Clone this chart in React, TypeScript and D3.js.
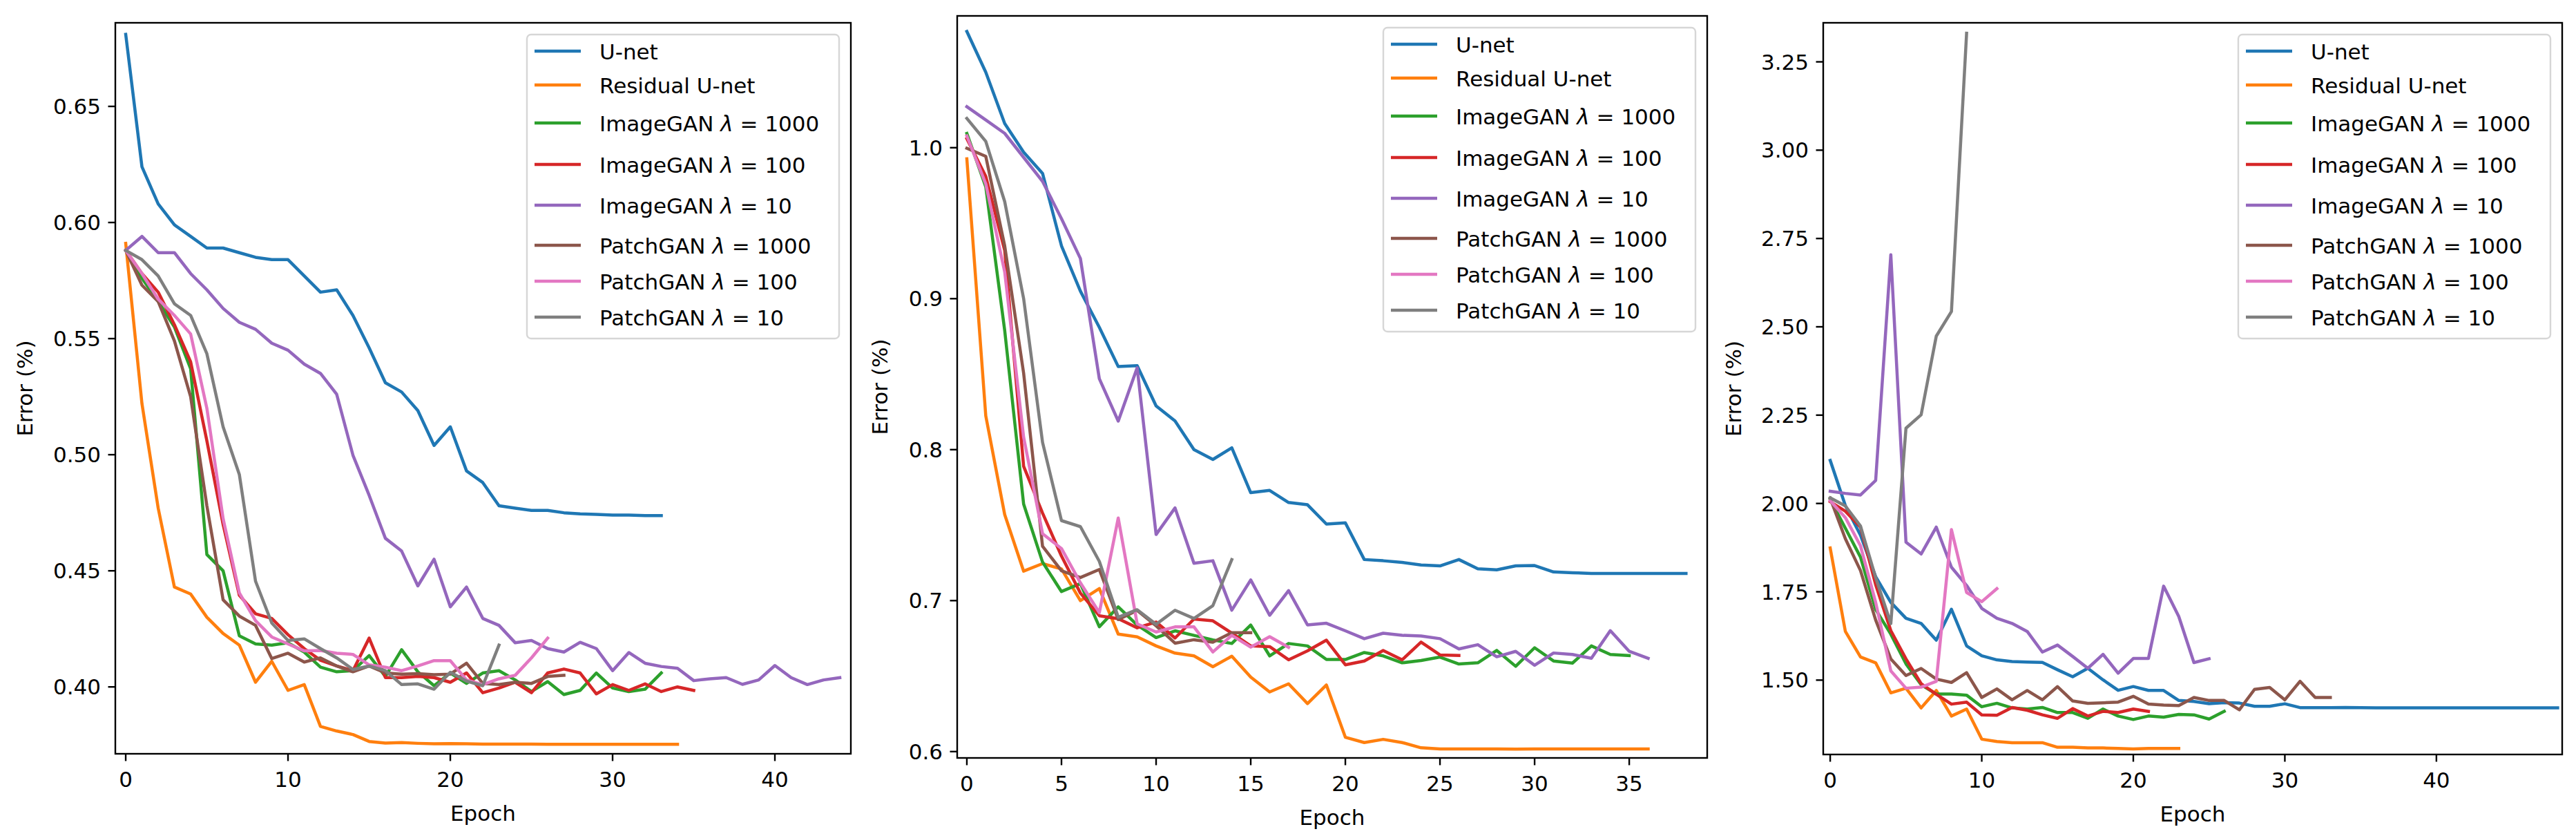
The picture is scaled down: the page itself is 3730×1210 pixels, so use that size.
import React from 'react';
import * as d3 from 'd3';

// legend labels, in plotting order (matplotlib tab10 colours)
const seriesNames = [
  'U-net',
  'Residual U-net',
  'ImageGAN λ = 1000',
  'ImageGAN λ = 100',
  'ImageGAN λ = 10',
  'PatchGAN λ = 1000',
  'PatchGAN λ = 100',
  'PatchGAN λ = 10',
];
const colors = d3.schemeCategory10.slice(0, 8);

// ---- panel 1 (error per epoch) ----
const p1UNet = [0.681, 0.624, 0.608, 0.599, 0.594, 0.589, 0.589, 0.587, 0.585, 0.584, 0.584, 0.577, 0.570, 0.571, 0.560, 0.546, 0.531, 0.527, 0.519, 0.504, 0.512, 0.493, 0.488, 0.478, 0.477, 0.476, 0.476, 0.475, 0.4745, 0.4743, 0.474, 0.474, 0.4738, 0.4738];
const p1ResUNet = [0.591, 0.522, 0.477, 0.443, 0.440, 0.430, 0.423, 0.418, 0.402, 0.411, 0.3985, 0.401, 0.383, 0.381, 0.3795, 0.3765, 0.3758, 0.376, 0.3757, 0.3755, 0.3756, 0.3755, 0.3754, 0.3754, 0.3754, 0.3754, 0.3753, 0.3753, 0.3753, 0.3753, 0.3753, 0.3753, 0.3753, 0.3753, 0.3753];
const p1Img1000 = [0.588, 0.576, 0.566, 0.555, 0.537, 0.457, 0.450, 0.422, 0.4185, 0.418, 0.419, 0.415, 0.4085, 0.4065, 0.407, 0.4135, 0.4045, 0.416, 0.4065, 0.4005, 0.406, 0.4015, 0.406, 0.407, 0.403, 0.398, 0.4023, 0.3967, 0.3985, 0.406, 0.3995, 0.398, 0.399, 0.406];
const p1Img100 = [0.588, 0.578, 0.570, 0.556, 0.540, 0.506, 0.470, 0.4395, 0.4315, 0.4295, 0.4225, 0.4165, 0.4115, 0.409, 0.407, 0.421, 0.404, 0.404, 0.4045, 0.404, 0.402, 0.406, 0.3975, 0.3995, 0.402, 0.3975, 0.406, 0.4077, 0.406, 0.397, 0.401, 0.3985, 0.4013, 0.398, 0.400, 0.3985];
const p1Img10 = [0.588, 0.594, 0.587, 0.587, 0.578, 0.571, 0.563, 0.557, 0.554, 0.548, 0.545, 0.539, 0.535, 0.526, 0.4998, 0.4825, 0.464, 0.4585, 0.4435, 0.455, 0.4345, 0.443, 0.4295, 0.4265, 0.419, 0.420, 0.4165, 0.415, 0.4192, 0.4165, 0.407, 0.4148, 0.4102, 0.4088, 0.408, 0.4027, 0.4035, 0.404, 0.4011, 0.403, 0.4092, 0.404, 0.401, 0.403, 0.404];
const p1Patch1000 = [0.588, 0.573, 0.566, 0.549, 0.525, 0.478, 0.4375, 0.4305, 0.4265, 0.4122, 0.4145, 0.4107, 0.4125, 0.409, 0.4065, 0.409, 0.406, 0.4055, 0.4057, 0.4053, 0.4055, 0.4102, 0.4015, 0.401, 0.402, 0.4015, 0.4045, 0.405];
const p1Patch100 = [0.588, 0.578, 0.567, 0.560, 0.552, 0.520, 0.4725, 0.4405, 0.4285, 0.4215, 0.4185, 0.4155, 0.4157, 0.4145, 0.414, 0.4095, 0.4085, 0.407, 0.409, 0.4113, 0.4113, 0.403, 0.401, 0.4035, 0.405, 0.4125, 0.421];
const p1Patch10 = [0.588, 0.584, 0.577, 0.565, 0.560, 0.5435, 0.512, 0.4915, 0.4455, 0.4275, 0.420, 0.4207, 0.4165, 0.4125, 0.4075, 0.409, 0.407, 0.401, 0.4013, 0.399, 0.4063, 0.4025, 0.4005, 0.418];
const p1XTicks = [0, 10, 20, 30, 40];
const p1YTicks = [0.40, 0.45, 0.50, 0.55, 0.60, 0.65];

// ---- panel 2 ----
const p2UNet = [1.077, 1.050, 1.016, 0.997, 0.983, 0.935, 0.905, 0.881, 0.855, 0.8556, 0.829, 0.819, 0.800, 0.7935, 0.8012, 0.7715, 0.773, 0.765, 0.7635, 0.7507, 0.7515, 0.7272, 0.7264, 0.7253, 0.7236, 0.723, 0.7272, 0.7211, 0.7204, 0.723, 0.7232, 0.719, 0.7185, 0.718, 0.718, 0.718, 0.718, 0.718, 0.718];
const p2ResUNet = [0.9926, 0.8224, 0.757, 0.7195, 0.7245, 0.721, 0.700, 0.708, 0.6778, 0.676, 0.670, 0.6652, 0.6634, 0.6562, 0.6632, 0.6493, 0.6395, 0.6449, 0.6318, 0.6441, 0.6095, 0.606, 0.6081, 0.606, 0.6025, 0.6018, 0.6018, 0.6018, 0.6018, 0.6016, 0.6018, 0.6018, 0.6018, 0.6018, 0.6018, 0.6018, 0.6018];
const p2Img1000 = [1.0095, 0.974, 0.879, 0.764, 0.7255, 0.706, 0.7113, 0.6827, 0.6959, 0.6838, 0.6755, 0.680, 0.677, 0.674, 0.6716, 0.6838, 0.6634, 0.6716, 0.670, 0.661, 0.661, 0.6656, 0.6634, 0.6588, 0.6603, 0.6626, 0.658, 0.6588, 0.667, 0.6565, 0.6688, 0.660, 0.6586, 0.670, 0.6643, 0.6636];
const p2Img100 = [1.006, 0.981, 0.932, 0.789, 0.758, 0.7295, 0.705, 0.690, 0.688, 0.682, 0.6858, 0.6752, 0.6878, 0.6866, 0.6785, 0.670, 0.6695, 0.6608, 0.6667, 0.6738, 0.6575, 0.660, 0.667, 0.6608, 0.6725, 0.664, 0.6637];
const p2Img10 = [1.0272, 1.0184, 1.0095, 0.9936, 0.9777, 0.953, 0.9266, 0.847, 0.8189, 0.8542, 0.7438, 0.7614, 0.7247, 0.7264, 0.6937, 0.7137, 0.6903, 0.7066, 0.6839, 0.685, 0.680, 0.6748, 0.6784, 0.677, 0.6766, 0.6748, 0.668, 0.6708, 0.6628, 0.6664, 0.6572, 0.6653, 0.6643, 0.6618, 0.6801, 0.6664, 0.6618];
const p2Patch1000 = [0.9996, 0.9943, 0.935, 0.8507, 0.736, 0.7198, 0.7153, 0.7206, 0.6875, 0.6935, 0.6833, 0.6718, 0.6741, 0.6724, 0.6788, 0.6788];
const p2Patch100 = [1.0078, 0.976, 0.9177, 0.8083, 0.7443, 0.7345, 0.7118, 0.692, 0.7547, 0.6846, 0.6792, 0.6826, 0.6826, 0.666, 0.677, 0.6692, 0.6761, 0.6691];
const p2Patch10 = [1.0194, 1.0042, 0.9643, 0.9001, 0.8048, 0.753, 0.749, 0.726, 0.689, 0.694, 0.6843, 0.6936, 0.6882, 0.6967, 0.7272];
const p2XTicks = [0, 5, 10, 15, 20, 25, 30, 35];
const p2YTicks = [0.6, 0.7, 0.8, 0.9, 1.0];

// ---- panel 3 ----
const p3UNet = [2.122, 1.994, 1.91, 1.793, 1.72, 1.675, 1.6605, 1.613, 1.7005, 1.597, 1.569, 1.5573, 1.5527, 1.551, 1.5502, 1.5293, 1.5095, 1.5335, 1.5008, 1.471, 1.4818, 1.4708, 1.4708, 1.4425, 1.4395, 1.4334, 1.4364, 1.435, 1.4258, 1.426, 1.433, 1.4222, 1.4222, 1.4218, 1.4225, 1.4222, 1.4215, 1.4215, 1.4215, 1.4215, 1.4215, 1.4215, 1.4215, 1.4213, 1.4213, 1.4213, 1.4213, 1.4213, 1.4213];
const p3ResUNet = [1.874, 1.6377, 1.5656, 1.549, 1.4639, 1.477, 1.4213, 1.4705, 1.3983, 1.418, 1.3328, 1.3262, 1.3229, 1.3229, 1.3229, 1.3098, 1.3098, 1.3079, 1.3079, 1.3065, 1.3052, 1.3065, 1.3065, 1.3065];
const p3Img1000 = [2.0115, 1.93, 1.848, 1.70, 1.63, 1.546, 1.487, 1.4606, 1.4606, 1.4574, 1.4246, 1.4344, 1.4213, 1.418, 1.4226, 1.4082, 1.4082, 1.3918, 1.418, 1.3983, 1.3885, 1.3983, 1.395, 1.4029, 1.4016, 1.3898, 1.4115];
const p3Img100 = [2.005, 1.978, 1.933, 1.77, 1.64, 1.56, 1.49, 1.46, 1.432, 1.4377, 1.4016, 1.4003, 1.4226, 1.4147, 1.4016, 1.3918, 1.4193, 1.3983, 1.4115, 1.4082, 1.418, 1.4115];
const p3Img10 = [2.0345, 2.0285, 2.024, 2.065, 2.704, 1.8905, 1.857, 1.933, 1.8195, 1.768, 1.703, 1.675, 1.6605, 1.6378, 1.5795, 1.5992, 1.567, 1.5335, 1.573, 1.5197, 1.5612, 1.5612, 1.766, 1.68, 1.5495, 1.5605];
const p3Patch1000 = [2.015, 1.90, 1.81, 1.67, 1.56, 1.513, 1.533, 1.503, 1.4934, 1.521, 1.4508, 1.475, 1.4442, 1.4705, 1.4442, 1.4816, 1.441, 1.4344, 1.4357, 1.4377, 1.4541, 1.4324, 1.4292, 1.4278, 1.4508, 1.4423, 1.4423, 1.416, 1.4738, 1.479, 1.4442, 1.4967, 1.4508, 1.4508];
const p3Patch100 = [2.008, 1.96, 1.88, 1.72, 1.526, 1.477, 1.48, 1.4967, 1.926, 1.748, 1.722, 1.759];
const p3Patch10 = [2.016, 1.993, 1.936, 1.79, 1.66, 2.213, 2.251, 2.4737, 2.5433, 3.3307];
const p3XTicks = [0, 10, 20, 30, 40];
const p3YTicks = [1.50, 1.75, 2.00, 2.25, 2.50, 2.75, 3.00, 3.25];

const W = 3730;
const H = 1210;
const FONT = '"DejaVu Sans", Verdana, sans-serif';
const FS = 31;
const TICK = 10.5;
const PAD = 10.5;
const SPINE = 2.4;
const LINE_W = 4.5;
// legend row centres, measured from the top of the legend frame
const legendRows = [24, 73, 128, 188, 247, 305, 357, 409];

interface PanelCfg {
  id: string;
  left: number;
  right: number;
  top: number;
  bottom: number;
  xDomain: [number, number];
  yDomain: [number, number];
  xTicks: number[];
  yTicks: number[];
  yFmt: string;
  ylabelX: number;
  series: number[][];
}

const panels: PanelCfg[] = [
  {
    id: 'p1', left: 167, right: 1232, top: 33, bottom: 1091,
    xDomain: [-0.64, 44.68], yDomain: [0.3712, 0.686],
    xTicks: p1XTicks, yTicks: p1YTicks, yFmt: '.2f', ylabelX: 36,
    series: [p1UNet, p1ResUNet, p1Img1000, p1Img100, p1Img10, p1Patch1000, p1Patch100, p1Patch10],
  },
  {
    id: 'p2', left: 1386, right: 2472, top: 23, bottom: 1097,
    xDomain: [-0.51, 39.12], yDomain: [0.5958, 1.0873],
    xTicks: p2XTicks, yTicks: p2YTicks, yFmt: '.1f', ylabelX: 1274,
    series: [p2UNet, p2ResUNet, p2Img1000, p2Img100, p2Img10, p2Patch1000, p2Patch100, p2Patch10],
  },
  {
    id: 'p3', left: 2640, right: 3710, top: 33, bottom: 1092,
    xDomain: [-0.46, 48.3], yDomain: [1.2895, 3.3605],
    xTicks: p3XTicks, yTicks: p3YTicks, yFmt: '.2f', ylabelX: 2510,
    series: [p3UNet, p3ResUNet, p3Img1000, p3Img100, p3Img10, p3Patch1000, p3Patch100, p3Patch10],
  },
];

function LegendLabel({ label, x, y }: { label: string; x: number; y: number }) {
  const parts = label.split('λ');
  return (
    <text x={x} y={y} fontFamily={FONT} fontSize={FS} fill="#000">
      {parts[0]}
      {parts.length > 1 && <tspan fontStyle="italic">λ</tspan>}
      {parts.length > 1 && parts[1]}
    </text>
  );
}

function Panel({ cfg }: { cfg: PanelCfg }) {
  const x = d3.scaleLinear().domain(cfg.xDomain).range([cfg.left, cfg.right]);
  const y = d3.scaleLinear().domain(cfg.yDomain).range([cfg.bottom, cfg.top]);
  const line = d3.line<number>().x((_, i) => x(i)).y(d => y(d));
  const fmt = d3.format(cfg.yFmt);

  const legW = 452;
  const legH = 440;
  const legX = cfg.right - 17 - legW;
  const legY = cfg.top + 17;

  return (
    <g>
      <defs>
        <clipPath id={`clip-${cfg.id}`}>
          <rect x={cfg.left} y={cfg.top} width={cfg.right - cfg.left} height={cfg.bottom - cfg.top} />
        </clipPath>
      </defs>

      <g clipPath={`url(#clip-${cfg.id})`} fill="none" strokeWidth={LINE_W} strokeLinejoin="round" strokeLinecap="square">
        {cfg.series.map((s, i) => (
          <path key={i} d={line(s) || ''} stroke={colors[i]} />
        ))}
      </g>

      <rect x={cfg.left} y={cfg.top} width={cfg.right - cfg.left} height={cfg.bottom - cfg.top}
        fill="none" stroke="#000" strokeWidth={SPINE} />

      {cfg.xTicks.map(t => (
        <g key={`x${t}`}>
          <line x1={x(t)} x2={x(t)} y1={cfg.bottom} y2={cfg.bottom + TICK} stroke="#000" strokeWidth={SPINE} />
          <text x={x(t)} y={cfg.bottom + TICK + PAD + 27} textAnchor="middle" fontFamily={FONT} fontSize={FS} fill="#000">{t}</text>
        </g>
      ))}
      {cfg.yTicks.map(t => (
        <g key={`y${t}`}>
          <line x1={cfg.left - TICK} x2={cfg.left} y1={y(t)} y2={y(t)} stroke="#000" strokeWidth={SPINE} />
          <text x={cfg.left - TICK - PAD} y={y(t) + 11} textAnchor="end" fontFamily={FONT} fontSize={FS} fill="#000">{fmt(t)}</text>
        </g>
      ))}

      <text x={(cfg.left + cfg.right) / 2} y={cfg.bottom + 97} textAnchor="middle" fontFamily={FONT} fontSize={FS} fill="#000">Epoch</text>
      <text transform={`translate(${cfg.ylabelX},${(cfg.top + cfg.bottom) / 2}) rotate(-90)`} textAnchor="middle"
        dominantBaseline="central" fontFamily={FONT} fontSize={FS} fill="#000">Error (%)</text>

      <rect x={legX} y={legY} width={legW} height={legH} rx={6} ry={6}
        fill="#fff" fillOpacity={0.8} stroke="#cccccc" strokeOpacity={0.8} strokeWidth={2.4} />
      {seriesNames.map((name, i) => (
        <g key={name}>
          <line x1={legX + 11} x2={legX + 78} y1={legY + legendRows[i]} y2={legY + legendRows[i]}
            stroke={colors[i]} strokeWidth={LINE_W} />
          <LegendLabel label={name} x={legX + 105} y={legY + legendRows[i] + 11.5} />
        </g>
      ))}
    </g>
  );
}

export default function App() {
  return (
    <svg width={W} height={H} viewBox={`0 0 ${W} ${H}`}
      style={{ position: 'absolute', left: 0, top: 0, background: '#fff' }}>
      <rect x={0} y={0} width={W} height={H} fill="#fff" />
      {panels.map(p => <Panel key={p.id} cfg={p} />)}
    </svg>
  );
}
